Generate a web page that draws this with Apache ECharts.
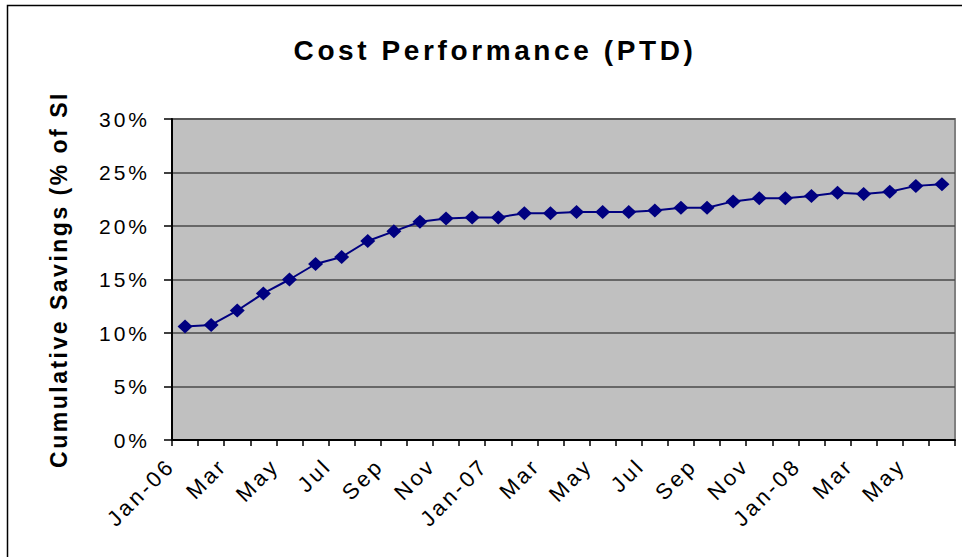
<!DOCTYPE html>
<html>
<head>
<meta charset="utf-8">
<script src="https://cdn.jsdelivr.net/npm/echarts@6/dist/echarts.min.js"></script>
<style>
html,body{margin:0;padding:0;background:#fff;}
#chart{width:962px;height:557px;}
/* the excel original prints its text widely spaced */
#chart text[style*="28px"], #chart text[font-size="28px"]{letter-spacing:3.6px;}
#chart text[style*="23px"], #chart text[font-size="23px"]{letter-spacing:2.5px;}
#chart text[style*="22px"], #chart text[font-size="22px"]{letter-spacing:3px;}
#chart text[style*="21px"], #chart text[font-size="21px"]{letter-spacing:3px;}
</style>
</head>
<body>
<div id="chart"></div>
<script>
// months Jan-06 .. Jun-08
var months = ['Jan-06','Feb','Mar','Apr','May','Jun','Jul','Aug','Sep','Oct','Nov','Dec',
	'Jan-07','Feb','Mar','Apr','May','Jun','Jul','Aug','Sep','Oct','Nov','Dec',
	'Jan-08','Feb','Mar','Apr','May','Jun'];
// cumulative savings, % of SI
var savings = [10.6, 10.75, 12.1, 13.7, 15.0, 16.45, 17.1, 18.6, 19.5, 20.4, 20.7, 20.8,
	20.8, 21.2, 21.2, 21.3, 21.3, 21.3, 21.45, 21.7, 21.7, 22.3, 22.6, 22.6,
	22.8, 23.1, 23.0, 23.2, 23.75, 23.9];
var yTicks = [0, 5, 10, 15, 20, 25, 30];

var chart = echarts.init(document.getElementById('chart'), null, {renderer: 'svg'});
var option = {
	backgroundColor: '#fff',
	animation: false,
	title: {
		text: 'Cost Performance (PTD)',
		left: 490,
		textAlign: 'center',
		top: 31,
		textStyle: {
			fontFamily: 'Liberation Sans',
			fontWeight: 'bold',
			fontSize: 28,
			color: '#000'
		}
	},
	graphic: [{
		type: 'rect',
		shape: {x: 7.5, y: 5.5, width: 970, height: 570},
		style: {fill: 'none', stroke: '#000', lineWidth: 1.5},
		silent: true
	}],
	grid: {
		left: 172,
		right: 7,
		top: 119,
		bottom: 117,
		show: true,
		backgroundColor: '#c0c0c0',
		borderColor: '#808080',
		borderWidth: 2
	},
	xAxis: {
		type: 'category',
		data: months,
		boundaryGap: true,
		axisLine: {lineStyle: {color: '#000', width: 2}},
		axisTick: {show: true, interval: 0, length: 6, lineStyle: {color: '#000', width: 1.5}},
		axisLabel: {
			interval: 1,
			rotate: 45,
			margin: 8,
			padding: [0, 20, 0, 0],
			fontFamily: 'Liberation Sans',
			fontSize: 22,
			color: '#000'
		}
	},
	yAxis: {
		type: 'value',
		min: yTicks[0],
		max: yTicks[yTicks.length - 1],
		interval: 5,
		name: 'Cumulative Savings (% of SI',
		nameLocation: 'middle',
		nameGap: 102,
		nameTextStyle: {
			fontFamily: 'Liberation Sans',
			fontWeight: 'bold',
			fontSize: 23,
			color: '#000'
		},
		axisLine: {show: true, lineStyle: {color: '#000', width: 2}},
		axisTick: {show: true, length: 8, lineStyle: {color: '#000', width: 1.5}},
		axisLabel: {
			formatter: '{value}%',
			margin: 22,
			fontFamily: 'Liberation Sans',
			fontSize: 21,
			color: '#000'
		},
		splitLine: {lineStyle: {color: '#4a4a4a', width: 1.5}}
	},
	series: [{
		name: 'Cumulative Savings',
		type: 'line',
		data: savings,
		symbol: 'diamond',
		symbolSize: [15, 14],
		itemStyle: {color: '#000080'},
		lineStyle: {color: '#000080', width: 2}
	}]
};
chart.setOption(option);
</script>
</body>
</html>
